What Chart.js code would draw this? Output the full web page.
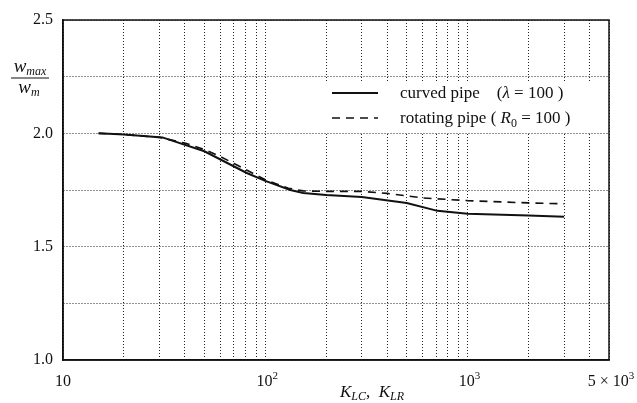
<!DOCTYPE html>
<html>
<head>
<meta charset="utf-8">
<script src="https://cdn.jsdelivr.net/npm/chart.js@4/dist/chart.umd.min.js"></script>
<style>
  html, body { margin: 0; padding: 0; background: #fff; }
  #wrap { width: 637px; height: 403px; }
</style>
</head>
<body>
<div id="wrap"><canvas id="chart" width="637" height="403"></canvas></div>
<script>
// values
const curvedX = [15, 20, 31, 50, 81, 100, 133, 154, 200, 300, 500, 710, 1000, 2000, 3000];
const curvedY = [2.0, 1.995, 1.982, 1.921, 1.825, 1.79, 1.75, 1.737, 1.728, 1.719, 1.693, 1.658, 1.645, 1.637, 1.632];
const rotatingX = [15, 20, 30, 40, 50, 60, 70, 80, 100, 130, 154, 200, 300, 400, 600, 1000, 2000, 3000];
const rotatingY = [2.0, 1.995, 1.982, 1.957, 1.929, 1.897, 1.867, 1.84, 1.795, 1.758, 1.746, 1.744, 1.744, 1.735, 1.715, 1.703, 1.693, 1.689];
const xGridValues = [10, 20, 30, 40, 50, 60, 70, 80, 90, 100, 200, 300, 400, 500, 600, 700, 800, 900, 1000, 2000, 3000, 4000, 5000];
const xTickValues = [10, 100, 1000, 5000];
const xTickLabels = [['10', ''], ['10', '2'], ['10', '3'], ['5 \u00D7 10', '3']];
const yTickLabels = [1.0, 1.5, 2.0, 2.5];

const SERIF = '"Liberation Serif", "DejaVu Serif", serif';
const INK = '#111';

const toPoints = (xs, ys) => xs.map((x, i) => ({ x, y: ys[i] }));

// draws a list of text pieces one after another (for italics / sub- and superscripts)
function drawRuns(ctx, x, y, runs, align) {
  let total = 0;
  runs.forEach(r => { ctx.font = r.font; total += ctx.measureText(r.t).width; });
  let cx = align === 'center' ? x - total / 2 : x;
  ctx.textBaseline = 'alphabetic';
  ctx.textAlign = 'left';
  runs.forEach(r => {
    ctx.font = r.font;
    ctx.fillText(r.t, cx, y + (r.dy || 0));
    cx += ctx.measureText(r.t).width;
  });
  return total;
}

const extras = {
  id: 'extras',
  afterDraw(chart) {
    const { ctx, chartArea: a } = chart;
    const xs = chart.scales.x;
    ctx.save();
    ctx.fillStyle = INK;
    ctx.strokeStyle = INK;

    // x tick labels with superscripts
    xTickValues.forEach((v, i) => {
      const [base, sup] = xTickLabels[i];
      const runs = [{ t: base, font: '16px ' + SERIF }];
      if (sup) runs.push({ t: sup, font: '11px ' + SERIF, dy: -7 });
      drawRuns(ctx, xs.getPixelForValue(v) + (sup ? 2 : 0), a.bottom + 26, runs, 'center');
    });

    // legend, inside the plot, over the grid
    ctx.fillStyle = '#fff';
    ctx.fillRect(325, 81, a.right - 326, 52);
    ctx.fillStyle = INK;
    const rows = [
      { y: 93, ds: chart.data.datasets[0], runs: [
        { t: 'curved pipe    (', font: '17px ' + SERIF },
        { t: '\u03BB', font: 'italic 17px ' + SERIF },
        { t: ' = 100 )', font: '17px ' + SERIF }
      ] },
      { y: 118, ds: chart.data.datasets[1], runs: [
        { t: 'rotating pipe ( ', font: '17px ' + SERIF },
        { t: 'R', font: 'italic 17px ' + SERIF },
        { t: '0', font: '12px ' + SERIF, dy: 4 },
        { t: ' = 100 )', font: '17px ' + SERIF }
      ] }
    ];
    rows.forEach(r => {
      ctx.save();
      ctx.lineWidth = r.ds.borderWidth;
      ctx.setLineDash(r.ds.borderDash || []);
      ctx.beginPath();
      ctx.moveTo(332, r.y);
      ctx.lineTo(378, r.y);
      ctx.stroke();
      ctx.restore();
      drawRuns(ctx, 400, r.y + 5, r.runs, 'left');
    });

    // y axis title: w_max / w_m
    drawRuns(ctx, 30, 72, [
      { t: 'w', font: 'italic 19px ' + SERIF },
      { t: 'max', font: 'italic 12px ' + SERIF, dy: 3 }
    ], 'center');
    ctx.lineWidth = 1;
    ctx.beginPath();
    ctx.moveTo(11, 78);
    ctx.lineTo(49, 78);
    ctx.stroke();
    drawRuns(ctx, 29, 93, [
      { t: 'w', font: 'italic 19px ' + SERIF },
      { t: 'm', font: 'italic 12px ' + SERIF, dy: 3 }
    ], 'center');

    // x axis title: K_LC, K_LR
    drawRuns(ctx, 372, 397, [
      { t: 'K', font: 'italic 17px ' + SERIF },
      { t: 'LC', font: 'italic 12px ' + SERIF, dy: 3 },
      { t: ',  ', font: '17px ' + SERIF },
      { t: 'K', font: 'italic 17px ' + SERIF },
      { t: 'LR', font: 'italic 12px ' + SERIF, dy: 3 }
    ], 'center');

    // frame
    ctx.lineWidth = 1.5;
    ctx.setLineDash([]);
    ctx.strokeRect(a.left, a.top, a.right - a.left, a.bottom - a.top);
    ctx.restore();
  }
};

new Chart(document.getElementById('chart'), {
  type: 'line',
  data: {
    datasets: [
      {
        label: 'curved pipe',
        data: toPoints(curvedX, curvedY),
        borderColor: INK,
        borderWidth: 2,
        pointRadius: 0,
        tension: 0,
        fill: false
      },
      {
        label: 'rotating pipe',
        data: toPoints(rotatingX, rotatingY),
        borderColor: INK,
        borderWidth: 1.6,
        borderDash: [8, 6],
        pointRadius: 0,
        tension: 0,
        fill: false
      }
    ]
  },
  options: {
    responsive: false,
    animation: false,
    layout: { padding: { top: 20, right: 28, left: 0, bottom: 0 } },
    plugins: { legend: { display: false }, tooltip: { enabled: false } },
    scales: {
      x: {
        type: 'logarithmic',
        min: 10,
        max: 5000,
        afterBuildTicks: s => { s.ticks = xGridValues.map(v => ({ value: v })); },
        afterFit: s => { s.height = 43; },
        grid: { color: '#222', lineWidth: 1, drawTicks: false },
        border: { display: true, color: INK, width: 1.5, dash: [1, 2] },
        ticks: { display: false }
      },
      y: {
        min: 1.0,
        max: 2.5,
        afterFit: s => { s.width = 63; },
        grid: { color: '#222', lineWidth: 1, drawTicks: false },
        border: { display: true, color: INK, width: 1.5, dash: [1, 2] },
        ticks: {
          stepSize: 0.25,
          padding: 10,
          color: INK,
          font: { family: SERIF, size: 16 },
          callback: v => yTickLabels.some(t => Math.abs(t - v) < 1e-6) ? v.toFixed(1) : ''
        }
      }
    }
  },
  plugins: [extras]
});
</script>
</body>
</html>
